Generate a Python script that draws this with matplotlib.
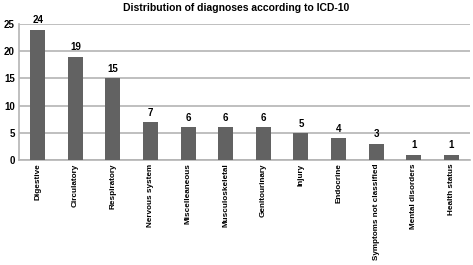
import matplotlib.pyplot as plt
import numpy as np

categories = ['Digestive', 'Circulatory', 'Respiratory', 'Nervous system', 'Miscelleaneous',
              'Musculoskeletal', 'Genitourinary', 'Injury', 'Endocrine',
              'Symptoms not classified', 'Mental disorders', 'Health status']
counts = [24, 19, 15, 7, 6, 6, 6, 5, 4, 3, 1, 1]

plt.rcParams['font.family'] = ['Liberation Sans Narrow', 'Liberation Sans', 'DejaVu Sans']
plt.rcParams['font.weight'] = 'bold'

fig = plt.figure(figsize=(4.73, 2.65), dpi=100)
ax = fig.add_axes([0.040, 0.396, 0.954, 0.513])

x = np.arange(len(categories))
bars = ax.bar(x, counts, width=0.4, color='#626262', zorder=3)
for xi, v in zip(x, counts):
    ax.text(xi, v + 0.8, str(v), ha='center', va='bottom', fontsize=7, fontweight='bold')

ax.set_xlim(-0.5, len(categories) - 0.5)
ax.set_ylim(0, 25)
ax.set_yticks([0, 5, 10, 15, 20, 25])
ax.yaxis.grid(True, color='#b4b4b4', linewidth=1.2, zorder=0)
ax.set_xticks(x)
ax.set_xticklabels(categories, rotation=90, fontweight='bold')
ax.tick_params(axis='both', length=0, labelsize=7, pad=3)
ax.tick_params(axis='x', labelsize=5.9, pad=2.5)
for s in ['top', 'right']:
    ax.spines[s].set_visible(False)
for s in ['left', 'bottom']:
    ax.spines[s].set_color('#b4b4b4')
    ax.spines[s].set_linewidth(1.2)

fig.text(0.50, 0.97, 'Distribution of diagnoses according to ICD-10', ha='center', va='center',
         fontsize=7.5, fontweight='bold')

fig.savefig('out.png', dpi=100)
